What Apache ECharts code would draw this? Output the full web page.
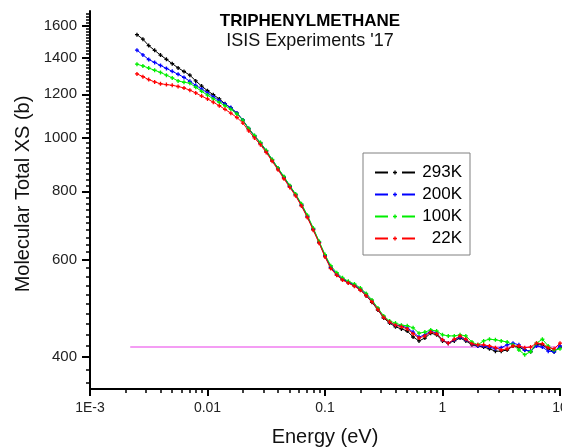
<!DOCTYPE html>
<html>
<head>
<meta charset="utf-8">
<script src="https://cdn.jsdelivr.net/npm/echarts@6/dist/echarts.min.js"></script>
<style>html,body{margin:0;padding:0;background:#fff}#c{width:562px;height:448px}</style>
</head>
<body>
<div id="c"></div>
<script>
const energy = [0.00251,0.00282,0.00316,0.00355,0.00398,0.00447,0.00501,0.00562,0.00631,0.00708,0.00794,0.00891,
0.0100,0.0112,0.0126,0.0141,0.0158,0.0178,0.0200,0.0224,0.0251,0.0282,0.0316,0.0355,0.0398,0.0447,0.0501,0.0562,0.0631,0.0708,0.0794,0.0891,
0.100,0.112,0.126,0.141,0.158,0.178,0.200,0.224,0.251,0.282,0.316,0.355,0.398,0.447,0.501,0.562,0.631,0.708,0.794,0.891,
1.00,1.12,1.26,1.41,1.58,1.78,2.00,2.24,2.51,2.82,3.16,3.55,3.98,4.47,5.01,5.62,6.31,7.08,7.94,8.91,10.0];

const xs293K = [1540,1511,1471,1442,1414,1389,1364,1340,1320,1300,1269,1242,
1218,1198,1177,1153,1133,1109,1077,1038,1007,978,946,911,879,847,817,788,754,719,682,646,
610,581,564,553,546,539,530,517,503,487,471,461,454,450,446,435,428,433,442,439,
428,424,428,433,428,421,419,417,414,410,410,412,419,417,412,409,421,421,414,409,417];

const xs200K = [1443,1415,1388,1371,1354,1337,1321,1305,1288,1267,1246,1227,
1207,1187,1169,1152,1135,1109,1078,1040,1009,980,948,913,881,849,818,789,756,721,684,647,
611,583,566,555,547,541,532,520,506,489,473,463,457,456,452,444,435,439,446,442,
430,424,430,435,430,423,419,419,417,414,416,421,424,421,412,410,419,417,410,409,419];

const xs100K = [1361,1351,1339,1327,1315,1300,1285,1269,1262,1257,1236,1215,
1196,1177,1160,1144,1127,1105,1077,1040,1010,981,949,914,882,851,820,791,759,724,686,649,
614,586,569,557,549,543,534,522,508,491,475,465,461,457,456,452,442,444,448,446,
439,437,437,439,437,426,421,428,431,430,428,426,421,412,404,409,424,431,419,412,414];

const xs22K = [1307,1292,1276,1264,1254,1250,1246,1240,1232,1221,1207,1191,
1177,1161,1144,1127,1109,1089,1064,1030,1000,972,941,907,875,843,813,785,752,717,680,644,
608,579,563,552,545,538,529,517,504,488,472,463,457,454,450,441,433,437,444,441,
430,424,431,437,431,423,421,421,419,416,412,414,419,419,416,417,424,423,416,414,424];

const baselineE = [0.0022, 10];
const baselineV = [417, 417];

const seriesNames = ['293K','200K','100K','22K'];
const seriesColors = ['#000000','#0000ff','#00ee00','#ff0000'];
const seriesValues = [xs293K, xs200K, xs100K, xs22K];

const xTickLabels = ['1E-3','0.01','0.1','1','10'];
const xMinor = [0.002,0.003,0.004,0.005,0.006,0.007,0.008,0.009,
0.02,0.03,0.04,0.05,0.06,0.07,0.08,0.09,
0.2,0.3,0.4,0.5,0.6,0.7,0.8,0.9,
2,3,4,5,6,7,8,9];
const yTicks = [400,600,800,1000,1200,1400,1600];
const yMinor = [360,380,420,440,460,480,500,520,540,560,580,620,640,660,680,700,720,740,760,780,
820,840,860,880,900,920,940,960,980,1020,1040,1060,1080,1100,1120,1140,1160,1180,
1220,1240,1260,1280,1300,1320,1340,1360,1380,1420,1440,1460,1480,1500,1520,1540,1560,1580,
1620,1640,1660,1680];

const yMin = Math.log10(350), yMax = Math.log10(1700);
const FONT = 'Liberation Sans, Arial, sans-serif';
const plusSym = 'path://M1,0H2V1H3V2H2V3H1V2H0V1H1Z';

const toXY = (xsArr, ysArr) => xsArr.map((e, i) => [Math.log10(e), Math.log10(ysArr[i])]);

const series = seriesNames.map((n, k) => ({
  name: n,
  type: 'line',
  xAxisIndex: 0, yAxisIndex: 0,
  data: toXY(energy, seriesValues[k]),
  symbol: plusSym,
  symbolSize: 4,
  showAllSymbol: true,
  itemStyle: {color: seriesColors[k]},
  lineStyle: {color: seriesColors[k], width: 1},
  z: 3 + k
}));
series.unshift({
  name: 'baseline',
  type: 'line',
  data: toXY(baselineE, baselineV),
  symbol: 'none',
  lineStyle: {color: '#f07cf0', width: 1.5},
  z: 2
});

const chart = echarts.init(document.getElementById('c'));
chart.setOption({
  animation: false,
  backgroundColor: '#fff',
  title: {
    text: 'TRIPHENYLMETHANE',
    subtext: "ISIS Experiments '17",
    left: 305, top: 8, textAlign: 'center', itemGap: 2,
    textStyle: {fontFamily: FONT, fontSize: 17, fontWeight: 'bold', color: '#000'},
    subtextStyle: {fontFamily: FONT, fontSize: 18, color: '#111'}
  },
  legend: {
    data: seriesNames,
    orient: 'vertical',
    left: 363, top: 153,
    padding: [11, 8, 8, 11],
    borderColor: '#808080', borderWidth: 1,
    itemWidth: 40, itemHeight: 5, itemGap: 5,
    lineStyle: {width: 2, type: [13, 14]},
    formatter: n => '{a|' + n + '}',
    textStyle: {fontFamily: FONT, fontSize: 17, color: '#000',
      rich: {a: {width: 42, align: 'right', fontFamily: FONT, fontSize: 17, color: '#000'}}}
  },
  grid: {left: 90, right: 2, top: 11, bottom: 59, containLabel: false, outerBoundsMode: 'none'},
  xAxis: [
    {type: 'value', min: -3, max: 1, interval: 1, position: 'bottom',
     name: 'Energy (eV)', nameLocation: 'middle', nameGap: 38,
     nameTextStyle: {fontFamily: FONT, fontSize: 20, color: '#111'},
     axisLine: {show: true, onZero: false, lineStyle: {color: '#000', width: 2}},
     axisTick: {show: true, length: 7, lineStyle: {color: '#000', width: 2}},
     axisLabel: {formatter: v => xTickLabels[Math.round(v + 3)], fontFamily: FONT, fontSize: 14, color: '#222', margin: 12},
     splitLine: {show: false}},
    {type: 'value', min: -3, max: 1, position: 'bottom', offset: 0,
     axisLine: {show: false, onZero: false},
     axisTick: {show: true, customValues: xMinor.map(Math.log10), length: 4, lineStyle: {color: '#000', width: 1.5}},
     axisLabel: {show: false}, splitLine: {show: false}}
  ],
  yAxis: [
    {type: 'value', min: yMin, max: yMax, position: 'left',
     axisLine: {show: true, onZero: false, lineStyle: {color: '#000', width: 2}},
     axisTick: {show: true, customValues: yTicks.map(Math.log10), length: 8, lineStyle: {color: '#000', width: 2}},
     axisLabel: {customValues: yTicks.map(Math.log10), formatter: v => String(Math.round(Math.pow(10, v))),
       fontFamily: FONT, fontSize: 15, color: '#222', margin: 13},
     splitLine: {show: false}},
    {type: 'value', min: yMin, max: yMax, position: 'left', offset: 0,
     axisLine: {show: false, onZero: false},
     axisTick: {show: true, customValues: yMinor.map(Math.log10), length: 4, lineStyle: {color: '#000', width: 1.5}},
     axisLabel: {show: false}, splitLine: {show: false}}
  ],
  graphic: [{
    type: 'text', x: 23, y: 194, rotation: Math.PI / 2,
    style: {text: 'Molecular Total XS (b)', font: '20px ' + FONT, fill: '#111', align: 'center', verticalAlign: 'middle'}
  }],
  series: series
});
</script>
</body>
</html>
